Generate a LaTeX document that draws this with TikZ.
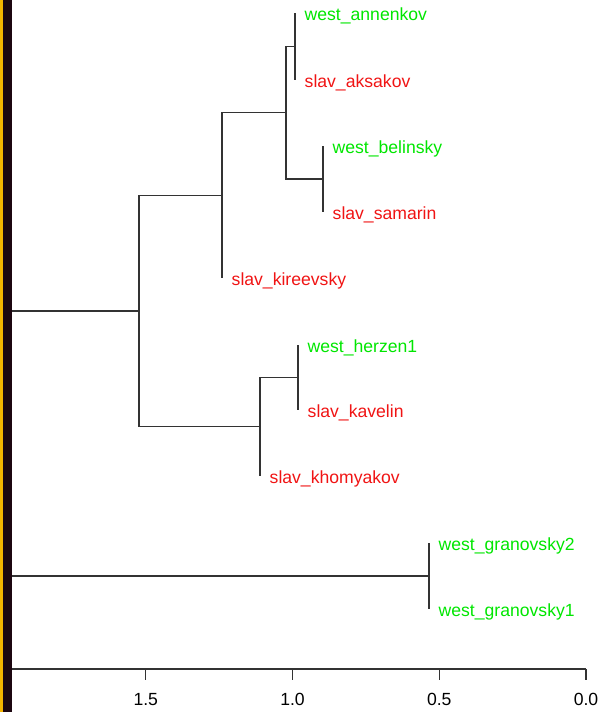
\documentclass[tikz,border=0pt]{standalone}
\usepackage{fontspec}
\setmainfont{Liberation Sans}
\usetikzlibrary{positioning}
\definecolor{westgreen}{RGB}{0,230,0}
\definecolor{slavred}{RGB}{240,20,20}
\definecolor{barorange}{RGB}{245,180,0}
\definecolor{bardark}{RGB}{28,6,16}

\begin{document}
\begin{tikzpicture}[
    x=1pt, y=-1pt,
    node distance=9.5pt,
    every node/.style={font=\fontsize{17.6}{20}\selectfont},
    branch/.style={draw=black!80, line width=1.2pt},
    westlbl/.style={text=westgreen, inner sep=0pt, anchor=mid west, yshift=-3pt},
    slavlbl/.style={text=slavred, inner sep=0pt, anchor=mid west, yshift=-3pt}
  ]
    \useasboundingbox (0,0) rectangle (598,712);
    \fill[barorange] (0,0) rectangle (2.5,712);
    \fill[bardark] (2.5,0) rectangle (12,712);

    % leaf tips
    \coordinate (tann) at (295,13);
    \coordinate (taks) at (295,80);
    \coordinate (tbel) at (323,146);
    \coordinate (tsam) at (323,212);
    \coordinate (tkir) at (222,278);
    \coordinate (ther) at (298,345);
    \coordinate (tkav) at (298,410);
    \coordinate (tkho) at (260,476);
    \coordinate (tgr2) at (429,543);
    \coordinate (tgr1) at (429,609);

    % merges
    \coordinate (m1) at (295,46.5);
    \coordinate (m2) at (323,179);
    \coordinate (m3) at (286,112.75);
    \coordinate (m4) at (222,195.4);
    \coordinate (m5) at (298,377.5);
    \coordinate (m6) at (260,426.75);
    \coordinate (m7) at (139,311);
    \coordinate (mg) at (429,576);
    \coordinate (r1) at (12,311);
    \coordinate (r2) at (12,576);

    \draw[branch] (tann) -| (m1) |- (taks);
    \draw[branch] (tbel) -| (m2) |- (tsam);
    \draw[branch] (m1) -| (m3) |- (m2);
    \draw[branch] (m3) -| (m4) |- (tkir);
    \draw[branch] (ther) -| (m5) |- (tkav);
    \draw[branch] (m5) -| (m6) |- (tkho);
    \draw[branch] (m4) -| (m7) |- (m6);
    \draw[branch] (tgr2) -| (mg) |- (tgr1);
    \draw[branch] (m7) -- (r1);
    \draw[branch] (mg) -- (r2);

    % labels
    \node[westlbl, right=of tann] (ann) {west\_annenkov};
    \node[slavlbl, right=of taks] (aks) {slav\_aksakov};
    \node[westlbl, right=of tbel] (bel) {west\_belinsky};
    \node[slavlbl, right=of tsam] (sam) {slav\_samarin};
    \node[slavlbl, right=of tkir] (kir) {slav\_kireevsky};
    \node[westlbl, right=of ther] (her) {west\_herzen1};
    \node[slavlbl, right=of tkav] (kav) {slav\_kavelin};
    \node[slavlbl, right=of tkho] (kho) {slav\_khomyakov};
    \node[westlbl, right=of tgr2] (gr2) {west\_granovsky2};
    \node[westlbl, right=of tgr1] (gr1) {west\_granovsky1};

    % height axis
    \coordinate (a0) at (12,669);
    \coordinate (a1) at (586,669);
    \draw[branch] (a0) -- (a1);
    \foreach \h/\t [count=\i] in {0/0.0, 0.5/0.5, 1/1.0, 1.5/1.5} {
      \coordinate (tk\i) at ({586-293.5*\h},669);
      \draw[branch] (tk\i) -- ++(0,11);
      \node[below=24pt of tk\i, inner sep=0pt] (lb\i) {\t};
    }
\end{tikzpicture}
\end{document}
